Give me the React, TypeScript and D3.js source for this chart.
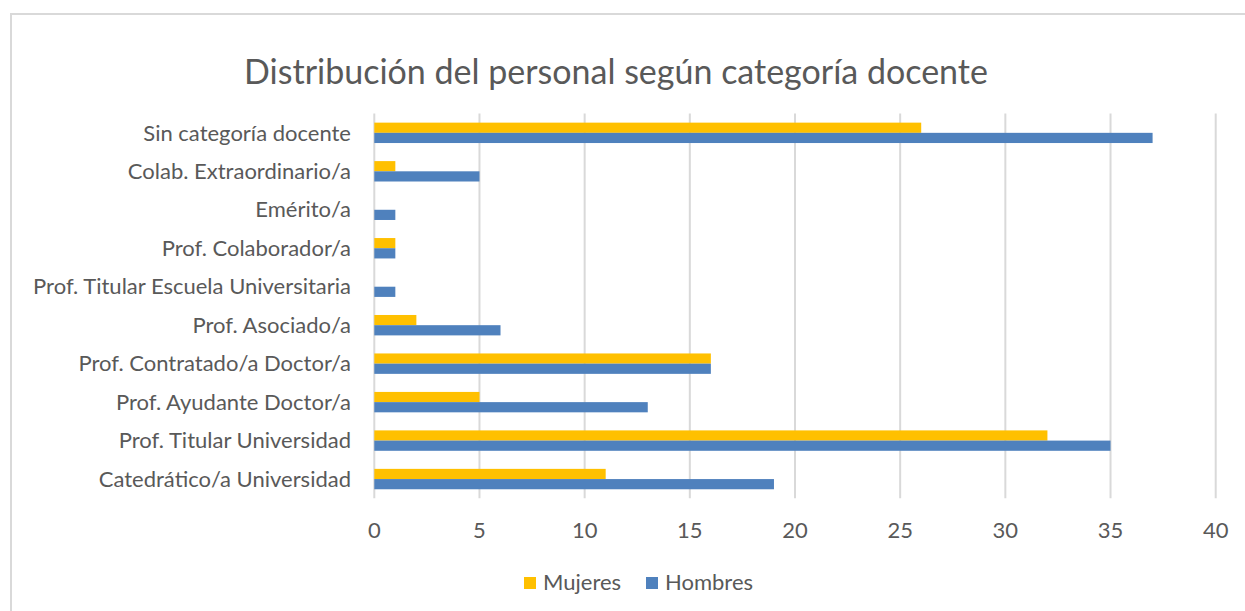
import React from 'react';
import * as d3 from 'd3';

// categories listed top to bottom as in the chart
const categories = [
  'Sin categoría docente',
  'Colab. Extraordinario/a',
  'Emérito/a',
  'Prof. Colaborador/a',
  'Prof. Titular Escuela Universitaria',
  'Prof. Asociado/a',
  'Prof. Contratado/a Doctor/a',
  'Prof. Ayudante Doctor/a',
  'Prof. Titular Universidad',
  'Catedrático/a Universidad',
];
const mujeres = [26, 1, 0, 1, 0, 2, 16, 5, 32, 11];
const hombres = [37, 5, 1, 1, 1, 6, 16, 13, 35, 19];
const seriesNames = ['Mujeres', 'Hombres'];
const xTicks = [0, 5, 10, 15, 20, 25, 30, 35, 40];

const colors: Record<string, string> = { Mujeres: '#FFC000', Hombres: '#4F81BD' };
const textColor = '#595959';
const font = 'Lato, "Open Sans", sans-serif';

export default function App() {
  const W = 1245;
  const H = 611;
  const plotTop = 113.6;
  const plotBottom = 498.3;

  const x = d3.scaleLinear().domain([0, 40]).range([374.3, 1215.7]);
  const y = d3.scaleBand<string>().domain(categories).range([plotTop, plotBottom]);
  const groupH = 20.4;
  const inner = d3.scaleBand<string>().domain(seriesNames).range([0, groupH]);

  const rows = categories.map((c, i) => ({ c, values: [mujeres[i], hombres[i]] }));

  return (
    <svg width={W} height={H} style={{ position: 'absolute', left: 0, top: 0, background: '#fff' }}>
      <rect x={0} y={0} width={W} height={H} fill="#fff" />
      <path d={`M11,${H + 5} L11,14 L${W + 5},14`} fill="none" stroke="#D9D9D9" strokeWidth={2} />

      <text x={616} y={84} textAnchor="middle" fontFamily={font} fontSize={34} fill={textColor}>
        Distribución del personal según categoría docente
      </text>

      {xTicks.map((t) => (
        <line key={'g' + t} x1={x(t)} x2={x(t)} y1={plotTop} y2={plotBottom} stroke="#D9D9D9" strokeWidth={2} />
      ))}

      {rows.map((r) => {
        const y0 = (y(r.c) as number) + (y.bandwidth() - groupH) / 2;
        return (
          <g key={r.c}>
            {seriesNames.map((s, j) =>
              r.values[j] > 0 ? (
                <rect
                  key={s}
                  x={x(0)}
                  y={y0 + (inner(s) as number)}
                  width={x(r.values[j]) - x(0)}
                  height={inner.bandwidth()}
                  fill={colors[s]}
                />
              ) : null
            )}
            <text
              x={351}
              y={(y(r.c) as number) + y.bandwidth() / 2}
              dy="0.35em"
              textAnchor="end"
              fontFamily={font}
              fontSize={22}
              fill={textColor}
            >
              {r.c}
            </text>
          </g>
        );
      })}

      {xTicks.map((t) => (
        <text key={'t' + t} x={x(t)} y={538} textAnchor="middle" fontFamily={font} fontSize={22} fill={textColor}>
          {t}
        </text>
      ))}

      {seriesNames.map((s, i) => {
        const lx = i === 0 ? 524 : 646;
        return (
          <g key={'l' + s}>
            <rect x={lx} y={577} width={12} height={12} fill={colors[s]} />
            <text x={lx + 19} y={590} fontFamily={font} fontSize={22} fill={textColor}>
              {s}
            </text>
          </g>
        );
      })}
    </svg>
  );
}
